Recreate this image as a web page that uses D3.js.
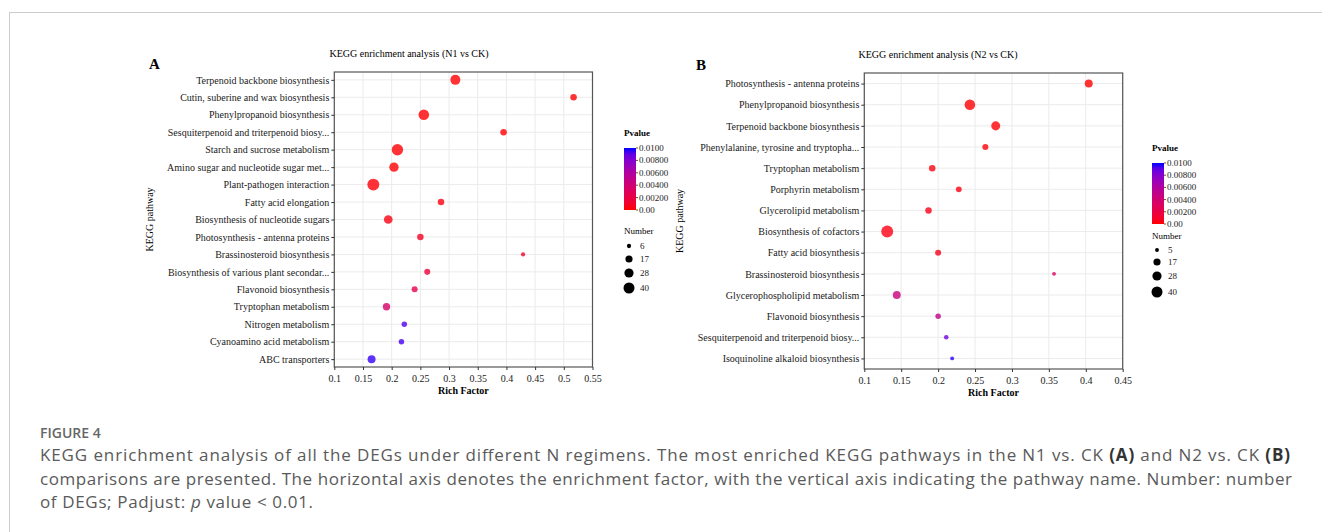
<!DOCTYPE html>
<html>
<head>
<meta charset="utf-8">
<script src="https://cdn.jsdelivr.net/npm/d3@7"></script>
<style>
  body { margin: 0; background: #fff; }
  svg { display: block; }
  .serif { font-family: "Liberation Serif", "Times New Roman", serif; }
</style>
</head>
<body>
<svg id="fig" width="1322" height="532"></svg>
<script>
// panel A: N1 vs CK
const pathwaysA = [
  "Terpenoid backbone biosynthesis",
  "Cutin, suberine and wax biosynthesis",
  "Phenylpropanoid biosynthesis",
  "Sesquiterpenoid and triterpenoid biosy...",
  "Starch and sucrose metabolism",
  "Amino sugar and nucleotide sugar met...",
  "Plant-pathogen interaction",
  "Fatty acid elongation",
  "Biosynthesis of nucleotide sugars",
  "Photosynthesis - antenna proteins",
  "Brassinosteroid biosynthesis",
  "Biosynthesis of various plant secondar...",
  "Flavonoid biosynthesis",
  "Tryptophan metabolism",
  "Nitrogen metabolism",
  "Cyanoamino acid metabolism",
  "ABC transporters"
];
const richA  = [0.311, 0.517, 0.256, 0.395, 0.210, 0.204, 0.168, 0.286, 0.194, 0.250, 0.429, 0.262, 0.240, 0.191, 0.222, 0.217, 0.165];
const countA = [33, 14, 37, 14, 43, 29, 47, 14, 25, 14, 6, 12, 12, 18, 10, 10, 21];
const pvalA  = [0.00001, 0.00002, 0.00002, 0.00003, 0.00004, 0.00005, 0.0001, 0.0002, 0.0003, 0.0008, 0.0012, 0.0015, 0.0022, 0.0035, 0.0093, 0.0095, 0.0097];
const xTicksA = [0.1, 0.15, 0.2, 0.25, 0.3, 0.35, 0.4, 0.45, 0.5, 0.55];
const numBreaksA = [6, 17, 28, 40];

// panel B: N2 vs CK
const pathwaysB = [
  "Photosynthesis - antenna proteins",
  "Phenylpropanoid biosynthesis",
  "Terpenoid backbone biosynthesis",
  "Phenylalanine, tyrosine and tryptopha...",
  "Tryptophan metabolism",
  "Porphyrin metabolism",
  "Glycerolipid metabolism",
  "Biosynthesis of cofactors",
  "Fatty acid biosynthesis",
  "Brassinosteroid biosynthesis",
  "Glycerophospholipid metabolism",
  "Flavonoid biosynthesis",
  "Sesquiterpenoid and triterpenoid biosy...",
  "Isoquinoline alkaloid biosynthesis"
];
const richB  = [0.404, 0.243, 0.278, 0.264, 0.192, 0.228, 0.187, 0.131, 0.200, 0.357, 0.144, 0.200, 0.211, 0.219];
const countB = [21, 37, 27, 12, 14, 11, 14, 47, 12, 5, 21, 10, 7, 5];
const pvalB  = [0.00001, 0.00002, 0.00003, 0.0001, 0.0002, 0.0003, 0.0004, 0.0003, 0.0006, 0.0030, 0.0045, 0.0050, 0.0085, 0.0098];
const xTicksB = [0.1, 0.15, 0.2, 0.25, 0.3, 0.35, 0.4, 0.45];
const numBreaksB = [5, 17, 28, 40];

const pTicks = [0.01, 0.008, 0.006, 0.004, 0.002, 0];
const pTickLabels = ["0.0100", "0.00800", "0.00600", "0.00400", "0.00200", "0.00"];

const svg = d3.select("#fig");

// page frame
svg.append("line").attr("x1", 9.5).attr("x2", 9.5).attr("y1", 12).attr("y2", 532).attr("stroke", "#ccc");
svg.append("line").attr("x1", 9.5).attr("x2", 1322).attr("y1", 12.5).attr("y2", 12.5).attr("stroke", "#ccc");

const color = d3.scaleLinear().domain([0, 0.01]).range(["#ff0000", "#0000ff"])
  .interpolate(d3.interpolateLab).clamp(true);
const size = d3.scaleSqrt().domain([0, 40]).range([0, 5.5]);

function drawPanel(o) {
  const g = svg.append("g").attr("class", "serif");
  const x = d3.scaleLinear().domain([o.xTicks[0], o.xTicks[o.xTicks.length - 1]]).range([o.left, o.right]);
  const y = d3.scalePoint().domain(o.names).range([o.top, o.bottom]).padding(o.pad);

  // grid
  g.append("g").selectAll("line").data(o.xTicks).join("line")
    .attr("x1", d => x(d)).attr("x2", d => x(d))
    .attr("y1", o.top).attr("y2", o.bottom)
    .attr("stroke", "#ebebeb").attr("stroke-width", 1);
  g.append("g").selectAll("line").data(o.names).join("line")
    .attr("x1", o.left).attr("x2", o.right)
    .attr("y1", d => y(d)).attr("y2", d => y(d))
    .attr("stroke", "#ebebeb").attr("stroke-width", 1);

  // points
  const rows = o.names.map((n, i) => ({ name: n, rich: o.rich[i], count: o.count[i], p: o.pval[i] }));
  g.append("g").selectAll("circle").data(rows).join("circle")
    .attr("cx", d => x(d.rich)).attr("cy", d => y(d.name))
    .attr("r", d => size(d.count))
    .attr("fill", d => color(d.p)).attr("fill-opacity", 0.8);

  g.append("rect").attr("x", o.left).attr("y", o.top)
    .attr("width", o.right - o.left).attr("height", o.bottom - o.top)
    .attr("fill", "none").attr("stroke", "#555").attr("stroke-width", 1.2);

  const xAxis = g.append("g").attr("transform", `translate(0,${o.bottom})`)
    .call(d3.axisBottom(x).tickValues(o.xTicks).tickSize(3).tickSizeOuter(0).tickFormat(d => String(+d.toFixed(2))));
  const yAxis = g.append("g").attr("transform", `translate(${o.left},0)`)
    .call(d3.axisLeft(y).tickSize(3).tickSizeOuter(0));
  [xAxis, yAxis].forEach(a => {
    a.select(".domain").remove();
    a.selectAll(".tick line").attr("stroke", "#333");
    a.selectAll(".tick text").attr("fill", "#1a1a1a").style("font-family", "Liberation Serif").style("font-size", "10px");
  });
  xAxis.selectAll(".tick text").attr("dy", "0.9em");
  yAxis.selectAll(".tick text").attr("x", -5);

  g.append("text").attr("x", (o.left + o.right) / 2).attr("y", o.bottom + 27)
    .attr("text-anchor", "middle").style("font-size", "10px").style("font-weight", "bold").text("Rich Factor");
  g.append("text").attr("transform", `translate(${o.ylabX},${(o.top + o.bottom) / 2}) rotate(-90)`)
    .attr("text-anchor", "middle").style("font-size", "10px").text("KEGG pathway");
  g.append("text").attr("x", o.titleX).attr("y", o.top - 15)
    .attr("text-anchor", "middle").style("font-size", "10px").text(o.title);
  g.append("text").attr("x", o.letterX).attr("y", o.top - 3)
    .style("font-size", "15px").style("font-weight", "bold").text(o.letter);

  // Pvalue legend
  const lg = g.append("g").attr("transform", `translate(${o.legX},${o.legY})`);
  lg.append("text").attr("x", 0).attr("y", 0).style("font-size", "9px").style("font-weight", "bold").text("Pvalue");
  const gid = "grad" + o.letter;
  const grad = svg.append("defs").append("linearGradient").attr("id", gid)
    .attr("x1", 0).attr("y1", 1).attr("x2", 0).attr("y2", 0);
  d3.range(0, 1.01, 0.1).forEach(t => grad.append("stop").attr("offset", t).attr("stop-color", color(t * 0.01)));
  const py = d3.scaleLinear().domain([0, 0.01]).range([o.barH + 12, 12]);
  lg.append("rect").attr("x", 0).attr("y", 12).attr("width", 12).attr("height", o.barH).attr("fill", `url(#${gid})`);
  lg.selectAll(".pt").data(pTicks).join("line").attr("class", "pt")
    .attr("x1", 12).attr("x2", 14).attr("y1", d => py(d)).attr("y2", d => py(d)).attr("stroke", "#555");
  lg.selectAll(".pl").data(pTicks).join("text").attr("class", "pl")
    .attr("x", 15).attr("y", d => py(d)).attr("dy", "0.33em")
    .style("font-size", "9px").attr("fill", "#1a1a1a").text((d, i) => pTickLabels[i]);

  // Number legend
  const ng = g.append("g").attr("transform", `translate(${o.legX},${o.legY + o.barH + o.numOff})`);
  ng.append("text").attr("x", 0).attr("y", 0).style("font-size", "9px").text("Number");
  ng.selectAll("circle").data(o.breaks).join("circle")
    .attr("cx", 5).attr("cy", (d, i) => o.numYs[i]).attr("r", d => size(d)).attr("fill", "#000");
  ng.selectAll(".nl").data(o.breaks).join("text").attr("class", "nl")
    .attr("x", 16).attr("y", (d, i) => o.numYs[i]).attr("dy", "0.33em")
    .style("font-size", "9px").attr("fill", "#1a1a1a").text(d => d);
}

drawPanel({
  names: pathwaysA, rich: richA, count: countA, pval: pvalA, xTicks: xTicksA, breaks: numBreaksA,
  left: 334.3, right: 592.5, top: 72, bottom: 367, pad: 0.45,
  ylabX: 153, titleX: 409, letterX: 149, letter: "A", title: "KEGG enrichment analysis (N1 vs CK)",
  legX: 624, legY: 136, barH: 62, numOff: 36, numYs: [12, 25, 39, 54]
});
drawPanel({
  names: pathwaysB, rich: richB, count: countB, pval: pvalB, xTicks: xTicksB, breaks: numBreaksB,
  left: 864.3, right: 1122.7, top: 73, bottom: 369, pad: 0.5,
  ylabX: 683, titleX: 938, letterX: 696, letter: "B", title: "KEGG enrichment analysis (N2 vs CK)",
  legX: 1152, legY: 151, barH: 61, numOff: 27, numYs: [11, 23, 37, 53]
});

// caption
const cap = svg.append("g").style("font-family", "'Open Sans', 'Noto Sans', sans-serif");
cap.append("text").attr("x", 40).attr("y", 438).attr("fill", "#666")
  .style("font-size", "14px").style("font-weight", "600").text("FIGURE 4");
const capLines = [
  [["KEGG enrichment analysis of all the DEGs under different N regimens. The most enriched KEGG pathways in the N1 vs. CK ", ""], ["(A)", "b"], [" and N2 vs. CK ", ""], ["(B)", "b"]],
  [["comparisons are presented. The horizontal axis denotes the enrichment factor, with the vertical axis indicating the pathway name. Number: number", ""]],
  [["of DEGs; Padjust: ", ""], ["p", "i"], [" value < 0.01.", ""]]
];
const capWidths = [1250, 1252, 273];
capLines.forEach((parts, li) => {
  const t = cap.append("text").attr("x", 40).attr("y", 461 + li * 23.5)
    .attr("fill", "#5a5a5a").style("font-size", "17px")
    .attr("textLength", capWidths[li]).attr("lengthAdjust", "spacing");
  parts.forEach(([s, f]) => {
    const ts = t.append("tspan").text(s);
    if (f === "b") ts.style("font-weight", "bold").attr("fill", "#333");
    if (f === "i") ts.style("font-style", "italic");
  });
});
</script>
</body>
</html>
